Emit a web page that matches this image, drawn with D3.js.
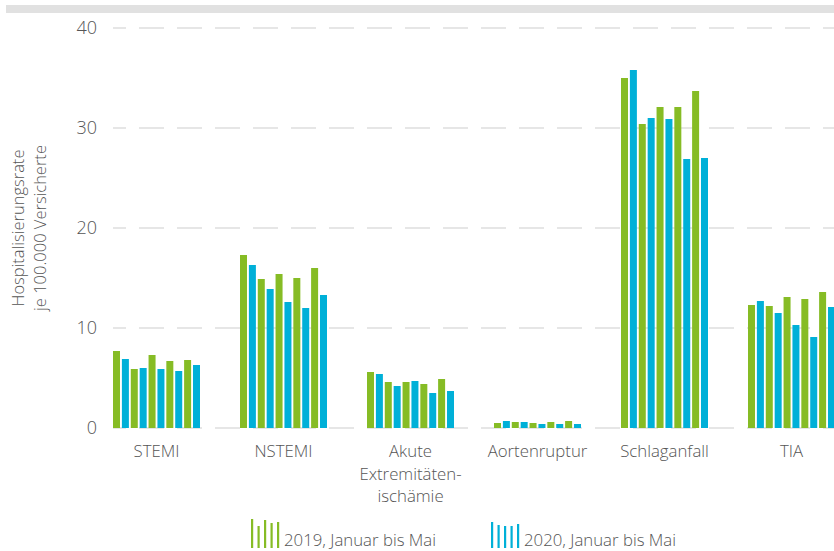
<!DOCTYPE html>
<html>
<head>
<meta charset="utf-8">
<script src="https://cdn.jsdelivr.net/npm/d3@7"></script>
<style>
  html, body { margin: 0; padding: 0; background: #fff; }
  svg { display: block; }
  text { font-family: "Open Sans", "DejaVu Sans", sans-serif; font-weight: 300; fill: #555; }
</style>
</head>
<body>
<svg id="chart" width="834" height="551"></svg>
<script>
// ---- data ----
const categories = ["STEMI", "NSTEMI", "Akute Extremitäten-ischämie", "Aortenruptur", "Schlaganfall", "TIA"];
const categoryLines = [["STEMI"], ["NSTEMI"], ["Akute", "Extremitäten-", "ischämie"], ["Aortenruptur"], ["Schlaganfall"], ["TIA"]];
const months = ["Januar", "Februar", "März", "April", "Mai"];
const years = ["2019", "2020"];
const rate2019 = [
  [7.7, 5.9, 7.3, 6.7, 6.8],
  [17.3, 14.9, 15.4, 15.0, 16.0],
  [5.6, 4.6, 4.6, 4.4, 4.9],
  [0.5, 0.6, 0.5, 0.6, 0.7],
  [35.0, 30.4, 32.1, 32.1, 33.7],
  [12.3, 12.2, 13.1, 12.9, 13.6]
];
const rate2020 = [
  [6.9, 6.0, 5.9, 5.7, 6.3],
  [16.3, 13.9, 12.6, 12.0, 13.3],
  [5.4, 4.2, 4.7, 3.5, 3.7],
  [0.7, 0.6, 0.4, 0.4, 0.4],
  [35.8, 31.0, 30.9, 26.9, 27.0],
  [12.7, 11.5, 10.3, 9.1, 12.1]
];
const yTicks = [0, 10, 20, 30, 40];
const legendLabels = ["2019, Januar bis Mai", "2020, Januar bis Mai"];
const yTitle = ["Hospitalisierungsrate", "je 100.000 Versicherte"];

// ---- styles ----
const colors = { "2019": "#86bc25", "2020": "#00b0d8" };

const svg = d3.select("#chart");

// top grey band
svg.append("rect").attr("x", 6).attr("y", 5).attr("width", 828).attr("height", 8).attr("fill", "#e1e1e1");

const y = d3.scaleLinear().domain([0, 40]).range([428, 28]);
const x = d3.scaleBand().domain(categories).range([93, 855]).paddingInner(0.315).paddingOuter(0.1575);

const innerKeys = [];
months.forEach(m => years.forEach(yr => innerKeys.push(m + "|" + yr)));
const xi = d3.scaleBand().domain(innerKeys).range([0, x.bandwidth()]).paddingInner(0.2125).paddingOuter(0);

// gridlines
svg.append("g").selectAll("line").data(yTicks).join("line")
  .attr("x1", 113).attr("x2", 834)
  .attr("y1", d => y(d)).attr("y2", d => y(d))
  .attr("stroke", "#e6e6e6").attr("stroke-width", 2)
  .attr("stroke-dasharray", "25,13").attr("stroke-dashoffset", 12);

// y tick labels
svg.append("g").selectAll("text").data(yTicks).join("text")
  .attr("x", 97).attr("y", d => y(d)).attr("dy", "0.36em")
  .attr("text-anchor", "end").style("font-size", "18px")
  .text(d => d);

// y title
const yt = svg.append("text").attr("transform", "translate(0,228) rotate(-90)")
  .attr("text-anchor", "middle").style("font-size", "16.5px");
yt.append("tspan").attr("x", 0).attr("y", 24).text(yTitle[0]);
yt.append("tspan").attr("x", 0).attr("y", 46).text(yTitle[1]);

// bars
const barData = [];
categories.forEach((c, ci) => {
  months.forEach((m, mi) => {
    barData.push({ cat: c, key: m + "|2019", year: "2019", v: rate2019[ci][mi] });
    barData.push({ cat: c, key: m + "|2020", year: "2020", v: rate2020[ci][mi] });
  });
});
svg.append("g").selectAll("rect").data(barData).join("rect")
  .attr("x", d => x(d.cat) + xi(d.key))
  .attr("width", xi.bandwidth())
  .attr("y", d => y(d.v))
  .attr("height", d => y(0) - y(d.v))
  .attr("fill", d => colors[d.year]);

// x labels
const xl = svg.append("g").selectAll("text").data(categories).join("text")
  .attr("text-anchor", "middle").style("font-size", "16.8px");
xl.each(function(c, i) {
  const t = d3.select(this);
  categoryLines[i].forEach((line, li) => {
    t.append("tspan").attr("x", x(c) + x.bandwidth() / 2).attr("y", 457 + li * 22.5).text(line);
  });
});

// legend
const iconHeights = { "2019": [29, 22, 28, 25, 26], "2020": [26, 23, 22, 22, 24] };
const legendX = [251, 491];
years.forEach((yr, i) => {
  const g = svg.append("g").attr("transform", `translate(${legendX[i]},0)`);
  g.selectAll("rect").data(iconHeights[yr]).join("rect")
    .attr("x", (d, j) => j * 6.5).attr("width", 2.2)
    .attr("y", d => 548 - d).attr("height", d => d)
    .attr("fill", colors[yr]);
  g.append("text").attr("x", 33).attr("y", 546).style("font-size", "16.8px").text(legendLabels[i]);
});
</script>
</body>
</html>
